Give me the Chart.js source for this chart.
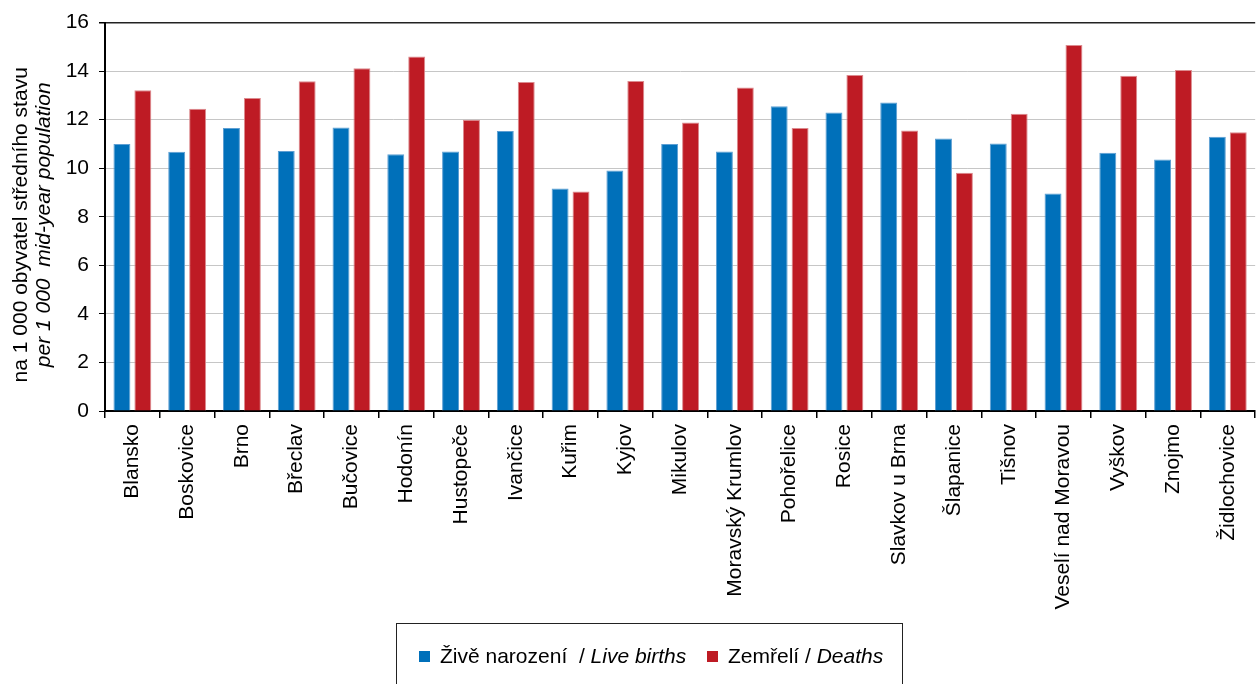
<!DOCTYPE html>
<html>
<head>
<meta charset="utf-8">
<script src="https://cdn.jsdelivr.net/npm/chart.js@4.4.0/dist/chart.umd.min.js"></script>
<style>
  body { margin: 0; background: #fff; }
  #wrap { position: relative; width: 1259px; height: 684px; overflow: hidden; }
  #legend {
    position: absolute; left: 396px; top: 623px; width: 507px; height: 80px;
    border: 1px solid #222; box-sizing: border-box;
    font: 21px "Liberation Sans", Arial, sans-serif; color: #000;
  }
  #legend .item { position: absolute; top: 20px; white-space: nowrap; }
  #legend .sq { display: inline-block; width: 11px; height: 11px; margin-right: 10px; vertical-align: 1px; }
</style>
</head>
<body>
<div id="wrap">
  <canvas id="rateChart"></canvas>
  <div id="legend">
    <span class="item" style="left:22px"><span class="sq" style="background:#0070BA"></span>Živě narození&nbsp; / <i>Live births</i></span>
    <span class="item" style="left:310px"><span class="sq" style="background:#BE1B24"></span>Zemřelí / <i>Deaths</i></span>
  </div>
</div>
<script>
var categories = ['Blansko', 'Boskovice', 'Brno', 'Břeclav', 'Bučovice', 'Hodonín', 'Hustopeče',
    'Ivančice', 'Kuřim', 'Kyjov', 'Mikulov', 'Moravský Krumlov', 'Pohořelice', 'Rosice',
    'Slavkov u Brna', 'Šlapanice', 'Tišnov', 'Veselí nad Moravou', 'Vyškov', 'Znojmo', 'Židlochovice'];
var liveBirths = [11.0, 10.68, 11.66, 10.71, 11.68, 10.58, 10.69, 11.53, 9.17, 9.91, 11.0,
    10.69, 12.55, 12.30, 12.71, 11.23, 11.02, 8.96, 10.64, 10.36, 11.30];
var deaths = [13.21, 12.45, 12.89, 13.58, 14.12, 14.60, 12.0, 13.55, 9.04, 13.59, 11.88,
    13.33, 11.66, 13.84, 11.55, 9.81, 12.25, 15.08, 13.81, 14.05, 11.48];
var yTicks = [0, 2, 4, 6, 8, 10, 12, 14, 16];
var yTitle = ['na 1 000 obyvatel středního stavu', 'per 1 000  mid-year population'];

var FONT = '"Liberation Sans", Arial, sans-serif';
Chart.defaults.font.family = FONT;
Chart.defaults.color = '#000';

// y axis title: two lines, second one in italics
var yTitlePlugin = {
    id: 'yTitle',
    afterDraw: function(chart) {
        var ctx = chart.ctx;
        var cy = (chart.chartArea.top + chart.chartArea.bottom) / 2 + 8;
        ctx.save();
        ctx.fillStyle = '#000';
        ctx.textAlign = 'center';
        ctx.textBaseline = 'alphabetic';
        ctx.translate(27, cy);
        ctx.rotate(-Math.PI / 2);
        ctx.font = '21px ' + FONT;
        ctx.fillText(yTitle[0], 0, 0);
        ctx.font = 'italic 21px ' + FONT;
        ctx.fillText(yTitle[1], 0, 23);
        ctx.restore();
    }
};

var ctx = document.getElementById('rateChart').getContext('2d');
var rateChart = new Chart(ctx, {
    type: 'bar',
    data: {
        labels: categories,
        datasets: [{
            label: 'Živě narození / Live births',
            data: liveBirths,
            backgroundColor: '#0070BA',
            borderColor: '#5E9FD3',
            borderWidth: { top: 1, left: 1, right: 1, bottom: 0 },
            categoryPercentage: 0.764,
            barPercentage: 0.81
        }, {
            label: 'Zemřelí / Deaths',
            data: deaths,
            backgroundColor: '#BE1B24',
            borderColor: '#DC8A8E',
            borderWidth: { top: 1, left: 1, right: 1, bottom: 0 },
            categoryPercentage: 0.764,
            barPercentage: 0.81
        }]
    },
    options: {
        responsive: true,
        maintainAspectRatio: false,
        animation: false,
        layout: { padding: { top: 22, left: 0, right: 0, bottom: 0 } },
        plugins: {
            legend: { display: false },
            tooltip: { enabled: false }
        },
        scales: {
            x: {
                grid: {
                    offset: true,
                    drawOnChartArea: false,
                    drawTicks: true,
                    tickLength: 7,
                    color: '#000',
                    lineWidth: 1.5
                },
                border: { color: '#000', width: 2 },
                ticks: {
                    autoSkip: false,
                    minRotation: 90,
                    maxRotation: 90,
                    padding: 6,
                    font: { size: 21 }
                },
                afterFit: function(scale) { scale.height = 273; }
            },
            y: {
                min: 0,
                max: 16,
                afterBuildTicks: function(scale) {
                    scale.ticks = yTicks.map(function(v) { return { value: v }; });
                },
                grid: {
                    color: function(c) { return c.tick && c.tick.value === 16 ? '#222' : '#c6c6c6'; },
                    lineWidth: function(c) { return c.tick && c.tick.value === 16 ? 1.5 : 1; },
                    tickColor: '#000',
                    tickLength: 6
                },
                border: { color: '#000', width: 2 },
                ticks: {
                    padding: 10,
                    font: { size: 21 }
                },
                afterFit: function(scale) { scale.width = 105; }
            }
        }
    },
    plugins: [yTitlePlugin]
});
</script>
</body>
</html>
